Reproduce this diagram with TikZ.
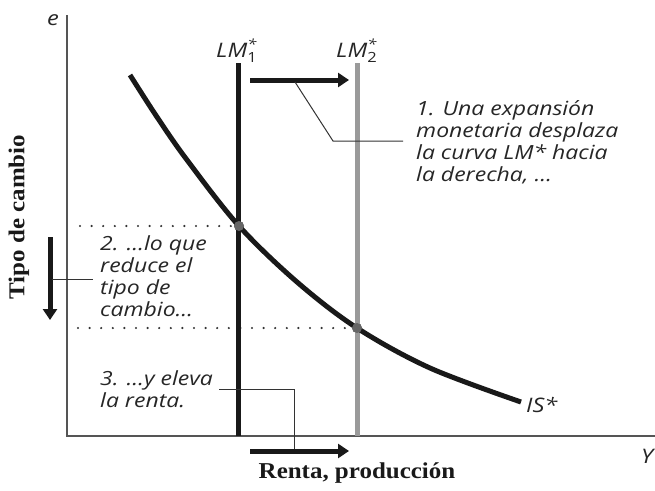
\documentclass[tikz,border=0pt]{standalone}
\usepackage{fontspec}
\setmainfont{Open Sans}[FakeStretch=1.18]
\newfontfamily\lblfont{Liberation Serif}[FakeStretch=1.1]
\usetikzlibrary{arrows.meta}
\definecolor{axisgray}{HTML}{555555}
\definecolor{lmgray}{HTML}{9A9A9A}
\definecolor{dotgray}{HTML}{666666}
\definecolor{leadgray}{HTML}{333333}
\newcommand\lmlabel[1]{\textit{LM}$^{\hbox{\fontsize{14}{14}\selectfont\itshape *}}_{\hbox{\fontsize{14}{14}\selectfont\upshape #1}}$}
\tikzset{
  axisline/.style={draw=axisgray, line width=1.2pt},
  curveline/.style={line width=5pt, line cap=butt},
  shiftarrow/.style={line width=5pt, -{Triangle[length=11pt,width=14pt]}, black!90},
  leader/.style={draw=leadgray, line width=1pt},
  dotline/.style={draw=leadgray, line width=2.4pt, line cap=round, dash pattern=on 0pt off 11.6pt},
  eqpoint/.style={circle, fill=dotgray, inner sep=0pt, minimum size=10pt},
  note/.style={font=\fontsize{19.5}{22}\selectfont\itshape, align=left, inner sep=0pt, anchor=base west, text=black!85},
  axlabel/.style={font=\fontsize{20}{22}\selectfont\itshape, inner sep=0pt, text=black!85},
  boldlabel/.style={font=\lblfont\fontsize{22.7}{26}\selectfont\bfseries, inner sep=0pt, text=black!90}
}
\begin{document}
\begin{tikzpicture}[x=1pt, y=-1pt]
\useasboundingbox (0,0) rectangle (655,490);
% axes
\coordinate (O) at (67,436);
\coordinate (ytop) at (67,15);
\coordinate (xend) at (655,436);
\draw[axisline] (ytop) -- (O) -- (xend);
\node[axlabel, anchor=base] (elab) at (53,25) {e};
\node[axlabel, anchor=base west] (Ylab) at (641,463) {Y};
\node[boldlabel, rotate=90] (ylabel) at (19,217) {Tipo de cambio};
\node[boldlabel] (xlabel) at (357,473) {Renta, producción};
% dotted guides
\coordinate (d1s) at (80,226);
\coordinate (d2s) at (78,328);
\node[eqpoint] (E1) at (239,226) {};
\node[eqpoint] (E2) at (357,328) {};
% LM curves
\coordinate (lm1top) at (238,63);
\coordinate (lm1bot) at (238,436);
\coordinate (lm2top) at (357,63);
\coordinate (lm2bot) at (357,436);
\draw[dotline] (d1s) -- (E1.center);
\draw[dotline] (d2s) -- (E2.center);
\draw[curveline, draw=black!90] (lm1top) -- (lm1bot);
\draw[curveline, draw=lmgray] (lm2top) -- (lm2bot);
\node[axlabel, anchor=base west] (lm1lab) at (216,57) {\lmlabel{1}};
\node[axlabel, anchor=base west] (lm2lab) at (336,57) {\lmlabel{2}};
% IS curve
\draw[line width=5pt, black!90] plot[smooth, tension=0.55] coordinates {(130,75) (157,117) (187,160) (239,226) (297,282) (357,328) (430,368) (521,402)};
\node[axlabel, anchor=base west] (islab) at (526,412) {IS*};
\node[eqpoint] at (E1) {};
\node[eqpoint] at (E2) {};
% shift arrows
\coordinate (a1s) at (250,80);
\coordinate (a1e) at (349,80);
\draw[shiftarrow] (a1s) -- (a1e);
\coordinate (a2s) at (50,237);
\coordinate (a2e) at (50,320);
\draw[shiftarrow] (a2s) -- (a2e);
\coordinate (a3s) at (250,451);
\coordinate (a3e) at (349,451);
\draw[shiftarrow] (a3s) -- (a3e);
% notes
\node[note] (n1) at (416,181) {1. Una expansión\\monetaria desplaza\\la curva LM* hacia\\la derecha, \dots};
\node[note] (n2) at (100,316) {2. \dots lo que\\reduce el\\tipo de\\cambio\dots};
\node[note] (n3) at (100,407) {3. \dots y eleva\\la renta.};
% leaders
\coordinate (l1a) at (295,82);
\coordinate (l1b) at (333,141);
\coordinate (l1c) at (403,141);
\draw[leader] (l1a) -- (l1b) -- (l1c);
\coordinate (l2a) at (52,279);
\coordinate (l2b) at (93,279);
\draw[leader] (l2a) -- (l2b);
\coordinate (l3a) at (219,389);
\coordinate (l3b) at (294,389);
\coordinate (l3c) at (294,449);
\draw[leader] (l3a) -- (l3b) -- (l3c);
\end{tikzpicture}
\end{document}
